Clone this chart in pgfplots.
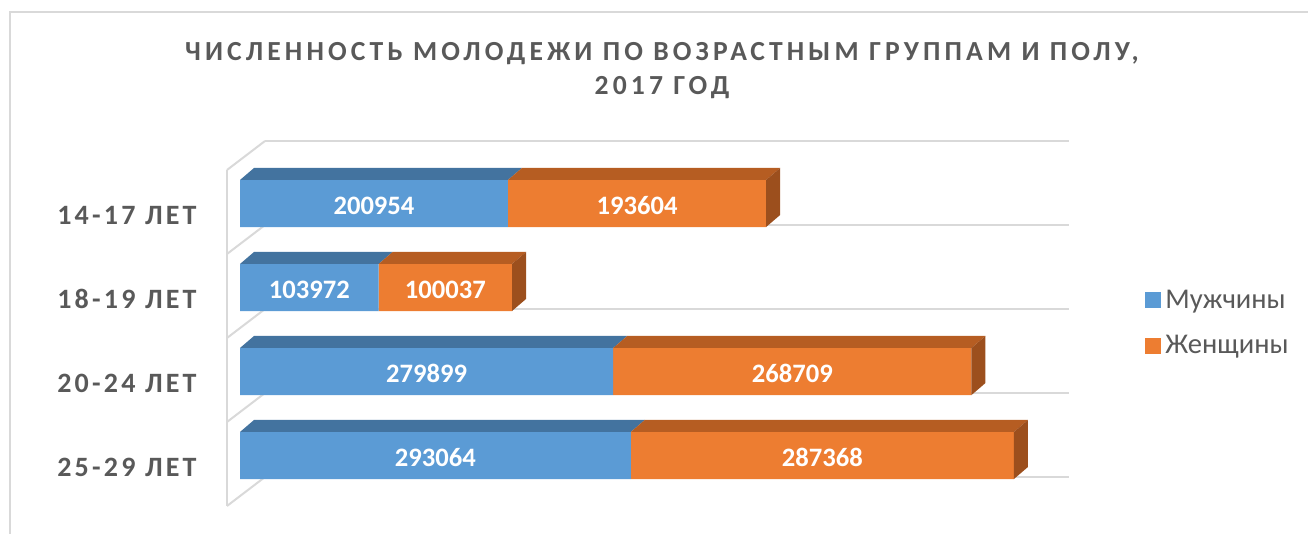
\documentclass[border=0pt]{standalone}
\usepackage{pgfplots}
\pgfplotsset{compat=1.18}
\usepackage{fontspec}
\setmainfont{Carlito}
\newfontfamily\titlefont[LetterSpace=15]{Carlito}
\newfontfamily\catfont[LetterSpace=11.5]{Carlito}
\definecolor{txt}{HTML}{595959}
\definecolor{gridc}{HTML}{D9D9D9}
\definecolor{mblue}{HTML}{5B9BD5}
\definecolor{mbluetop}{HTML}{43739F}
\definecolor{morange}{HTML}{ED7D31}
\definecolor{morangetop}{HTML}{B65D22}
\definecolor{morangeside}{HTML}{9C4F1D}
\pgfplotsset{base/.style={scale only axis, width=450pt, height=195pt,
  at={(100pt,-260pt)}, anchor=south west,
  xmin=-30000, xmax=645000, ymin=-0.767857, ymax=3.875, clip=false},
  gl/.style={color=gridc, line width=1pt}}
\begin{document}
\begin{tikzpicture}
\useasboundingbox (0,0) rectangle (654pt,-267pt);
% chart area border
\draw[color=gridc, line width=0.75pt] (5pt,-267pt) -- (5pt,-6pt) -- (654pt,-6pt);
% title
\node[anchor=base, text=txt, font=\titlefont\bfseries\fontsize{13.8}{15}\selectfont] at (331pt,-30.5pt) {ЧИСЛЕННОСТЬ МОЛОДЕЖИ ПО ВОЗРАСТНЫМ ГРУППАМ И ПОЛУ,};
\node[anchor=base, text=txt, font=\titlefont\bfseries\fontsize{13.8}{15}\selectfont] at (331pt,-47.5pt) {2017 ГОД};
% axis A: walls and gridlines
\begin{axis}[base, hide axis]
\addplot[gl] coordinates {(18750,3.744) (621750,3.744)};
\addplot[gl] coordinates {(18750,2.744) (621750,2.744)};
\addplot[gl] coordinates {(18750,1.744) (621750,1.744)};
\addplot[gl] coordinates {(18750,0.744) (621750,0.744)};
\addplot[gl] coordinates {(18750,-0.256) (621750,-0.256)};
\addplot[gl] coordinates {(-9750,3.399) (-9750,-0.601)};
\addplot[gl] coordinates {(-9750,3.399) (18750,3.744)};
\addplot[gl] coordinates {(-9750,2.399) (18750,2.744)};
\addplot[gl] coordinates {(-9750,1.399) (18750,1.744)};
\addplot[gl] coordinates {(-9750,0.399) (18750,0.744)};
\addplot[gl] coordinates {(-9750,-0.601) (18750,-0.256)};
\end{axis}
% axis B: stacked bars (front faces)
\begin{axis}[base, xbar stacked, bar width=0.56,
  axis line style={draw=none}, major tick length=0pt, xtick=\empty,
  ytick={0,1,2,3}, yticklabels={25-29 ЛЕТ,20-24 ЛЕТ,18-19 ЛЕТ,14-17 ЛЕТ},
  yticklabel style={anchor=east, inner sep=0pt, xshift=-1.5pt, yshift=-5.8pt,
    text=txt, font=\catfont\bfseries\fontsize{14}{16}\selectfont},
  legend style={draw=none, fill=none, at={(axis description cs:1.05,0.505)}, anchor=west,
    font=\fontsize{14.3}{16}\selectfont, text=txt, row sep=8pt, inner sep=0pt,
    nodes={inner sep=2pt}},
  legend cell align=left,
  legend image code/.code={\fill[#1] (0pt,-4pt) rectangle (8pt,4pt);}]
\addplot[fill=mblue, draw=none] coordinates {(293064,0) (279899,1) (103972,2) (200954,3)};
\addplot[fill=morange, draw=none] coordinates {(287368,0) (268709,1) (100037,2) (193604,3)};
\legend{Мужчины,Женщины}
\end{axis}
% axis C: 3D faces and data labels
\begin{axis}[base, hide axis]
% category 14-17
\addplot[fill=mbluetop, draw=none] coordinates {(0,3.28) (200954,3.28) (211454,3.423) (10500,3.423)} -- cycle;
\addplot[fill=morangetop, draw=none] coordinates {(200954,3.28) (394558,3.28) (405058,3.423) (211454,3.423)} -- cycle;
\addplot[fill=morangeside, draw=none] coordinates {(394558,2.72) (394558,3.28) (405058,3.423) (405058,2.863)} -- cycle;
% category 18-19
\addplot[fill=mbluetop, draw=none] coordinates {(0,2.28) (103972,2.28) (114472,2.423) (10500,2.423)} -- cycle;
\addplot[fill=morangetop, draw=none] coordinates {(103972,2.28) (204009,2.28) (214509,2.423) (114472,2.423)} -- cycle;
\addplot[fill=morangeside, draw=none] coordinates {(204009,1.72) (204009,2.28) (214509,2.423) (214509,1.863)} -- cycle;
% category 20-24
\addplot[fill=mbluetop, draw=none] coordinates {(0,1.28) (279899,1.28) (290399,1.423) (10500,1.423)} -- cycle;
\addplot[fill=morangetop, draw=none] coordinates {(279899,1.28) (548608,1.28) (559108,1.423) (290399,1.423)} -- cycle;
\addplot[fill=morangeside, draw=none] coordinates {(548608,0.72) (548608,1.28) (559108,1.423) (559108,0.863)} -- cycle;
% category 25-29
\addplot[fill=mbluetop, draw=none] coordinates {(0,0.28) (293064,0.28) (303564,0.423) (10500,0.423)} -- cycle;
\addplot[fill=morangetop, draw=none] coordinates {(293064,0.28) (580432,0.28) (590932,0.423) (303564,0.423)} -- cycle;
\addplot[fill=morangeside, draw=none] coordinates {(580432,-0.28) (580432,0.28) (590932,0.423) (590932,-0.137)} -- cycle;
% data labels
\addplot[draw=none, mark=none, nodes near coords, point meta=explicit symbolic,
  every node near coord/.append style={anchor=center, inner sep=0pt, yshift=-1pt, text=white,
    font=\bfseries\fontsize{13.3}{15}\selectfont}]
  coordinates {(100477,3)[200954] (297756,3)[193604]
               (51986,2)[103972] (153990.5,2)[100037]
               (139949.5,1)[279899] (414253.5,1)[268709]
               (146532,0)[293064] (436748,0)[287368]};
\end{axis}
\end{tikzpicture}
\end{document}
